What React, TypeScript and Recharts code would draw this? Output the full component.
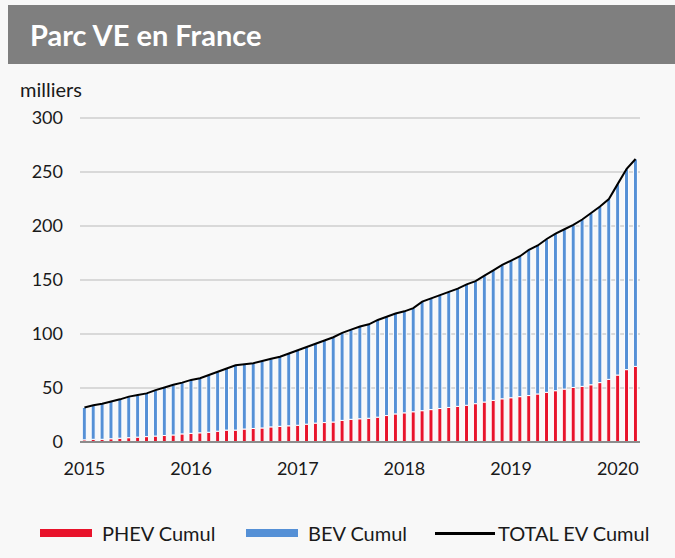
import { ComposedChart, Bar, Line, XAxis, YAxis, CartesianGrid } from "recharts";

// monthly, Jan 2015 -> Mar 2020 (thousands of vehicles)
const years = ["2015", "2016", "2017", "2018", "2019", "2020"];
const months = years.flatMap((y) =>
  ["01", "02", "03", "04", "05", "06", "07", "08", "09", "10", "11", "12"].map((m) => `${y}-${m}`)
).slice(0, 63);

const phevCumul = [
  2, 2.5, 2.5, 3, 3.5, 4, 4.5, 5, 5.5, 6, 6.5, 7.5,
  8, 8.5, 9, 10, 11, 11, 12, 12.5, 13, 14, 14.5, 15,
  15.5, 16.5, 17.5, 18, 18.5, 20, 21, 21.5, 22, 23, 24.5, 26,
  27, 28, 29, 30, 31, 32, 33, 34, 35.5, 37, 38.5, 40,
  41, 42, 43, 44.5, 46, 47.5, 49, 50.5, 51.5, 53, 55, 58,
  62, 67, 70,
];

const totalCumul = [
  32, 34, 35.5, 37.5, 39.5, 42, 43.5, 45, 48, 50.5, 53, 55,
  57.5, 59, 62, 65, 68, 71, 72, 73, 75, 77, 79, 82,
  85, 88, 91, 94, 97, 101, 104, 107, 109, 113, 116, 119,
  121, 124, 130, 133, 136, 139, 142, 146, 149, 154, 159, 164,
  168, 172, 178, 182, 188, 193, 197, 201, 206, 212, 218, 225,
  239, 253, 262,
];

const yTicks = [0, 50, 100, 150, 200, 250, 300];

const RED = "#e8132b";
const BLUE = "#5590d6";

const data = months.map((m, i) => ({
  month: m,
  phev: phevCumul[i],
  bev: +(totalCumul[i] - phevCumul[i]).toFixed(1),
  total: totalCumul[i],
}));

const font = "Lato, 'Open Sans', sans-serif";

function LegendItem({ x, swatchW, color, thick, gap, label }: {
  x: number; swatchW: number; color: string; thick: number; gap: number; label: string;
}) {
  return (
    <div style={{ position: "absolute", left: x, top: 520, height: 26, display: "flex", alignItems: "center" }}>
      <div style={{ width: swatchW, height: thick, background: color, marginRight: gap }} />
      <span>{label}</span>
    </div>
  );
}

export default function App() {
  return (
    <div
      style={{
        position: "absolute",
        left: 0,
        top: 0,
        width: 675,
        height: 558,
        background: "#f8f8f8",
        fontFamily: font,
        overflow: "hidden",
      }}
    >
      <div
        style={{
          position: "absolute",
          left: 8,
          top: 5,
          width: 667,
          height: 59,
          background: "#7f7f7f",
          color: "#fff",
          fontWeight: 700,
          fontSize: 29,
          lineHeight: "60px",
          paddingLeft: 22,
          boxSizing: "border-box",
        }}
      >
        Parc VE en France
      </div>
      <div style={{ position: "absolute", left: 20, top: 77, fontSize: 20, color: "#1a1a1a" }}>milliers</div>

      <ComposedChart
        width={675}
        height={558}
        data={data}
        margin={{ top: 118, right: 35, bottom: 86, left: 0 }}
        barCategoryGap="26%"
        style={{ position: "absolute", left: 0, top: 0 }}
      >
        <CartesianGrid vertical={false} stroke="#d9d9d9" strokeWidth={2} />
        <XAxis
          dataKey="month"
          height={30}
          interval={11}
          tickFormatter={(v: string) => v.slice(0, 4)}
          tick={{ fill: "#1a1a1a", fontSize: 18, fontFamily: font }}
          tickLine={false}
          tickSize={0}
          tickMargin={20}
          axisLine={{ stroke: "#8c8c8c", strokeWidth: 2 }}
        />
        <YAxis
          width={80}
          domain={[0, 300]}
          ticks={yTicks}
          tick={{ fill: "#1a1a1a", fontSize: 18, fontFamily: font }}
          tickLine={false}
          tickSize={0}
          tickMargin={17}
          axisLine={false}
        />
        <Bar dataKey="phev" stackId="a" fill={RED} stroke="#ffffff" strokeWidth={1} isAnimationActive={false} />
        <Bar dataKey="bev" stackId="a" fill={BLUE} stroke="#ffffff" strokeWidth={1} isAnimationActive={false} />
        <Line dataKey="total" type="linear" stroke="#000" strokeWidth={2} dot={false} isAnimationActive={false} />
      </ComposedChart>

      <div style={{ fontSize: 20, color: "#1a1a1a" }}>
        <LegendItem x={40} swatchW={52} color={RED} thick={8} gap={10} label="PHEV Cumul" />
        <LegendItem x={246} swatchW={52} color={BLUE} thick={8} gap={10} label="BEV Cumul" />
        <LegendItem x={435} swatchW={60} color="#000" thick={3} gap={3} label="TOTAL EV Cumul" />
      </div>
    </div>
  );
}
